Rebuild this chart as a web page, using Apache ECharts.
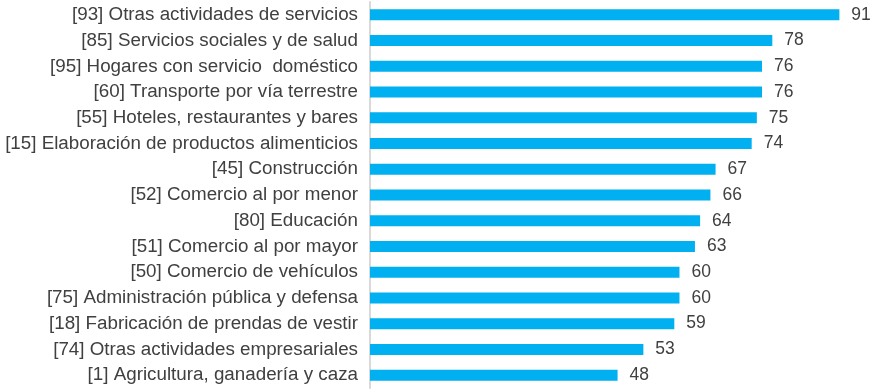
<!DOCTYPE html>
<html>
<head>
<meta charset="utf-8">
<script src="https://cdn.jsdelivr.net/npm/echarts@6/dist/echarts.min.js"></script>
<style>
html,body{margin:0;padding:0;background:#fff;}
#chart{width:874px;height:390px;}
</style>
</head>
<body>
<div id="chart"></div>
<script>
const categories = [
  "[93] Otras actividades de servicios",
  "[85] Servicios sociales y de salud",
  "[95] Hogares con servicio  doméstico",
  "[60] Transporte por vía terrestre",
  "[55] Hoteles, restaurantes y bares",
  "[15] Elaboración de productos alimenticios",
  "[45] Construcción",
  "[52] Comercio al por menor",
  "[80] Educación",
  "[51] Comercio al por mayor",
  "[50] Comercio de vehículos",
  "[75] Administración pública y defensa",
  "[18] Fabricación de prendas de vestir",
  "[74] Otras actividades empresariales",
  "[1] Agricultura, ganadería y caza"
];
const values = [91, 78, 76, 76, 75, 74, 67, 66, 64, 63, 60, 60, 59, 53, 48];

const chart = echarts.init(document.getElementById('chart'));
chart.setOption({
  animation: false,
  grid: { left: 370, right: 14, top: 2, height: 386, containLabel: false },
  xAxis: {
    type: 'value', min: 0, max: 95,
    show: false
  },
  yAxis: {
    type: 'category',
    data: categories,
    inverse: true,
    axisLine: { show: true, lineStyle: { color: '#d9d9d9', width: 2 } },
    axisTick: { show: false },
    axisLabel: {
      color: '#404040',
      fontFamily: 'Liberation Sans, Arial, sans-serif',
      fontSize: 18.8,
      margin: 12
    }
  },
  series: [{
    type: 'bar',
    data: values,
    barWidth: 11,
    itemStyle: { color: '#00B0F0' },
    label: {
      show: true,
      position: 'right',
      distance: 12,
      color: '#404040',
      fontFamily: 'Liberation Sans, Arial, sans-serif',
      fontSize: 17.5
    }
  }]
});
</script>
</body>
</html>
